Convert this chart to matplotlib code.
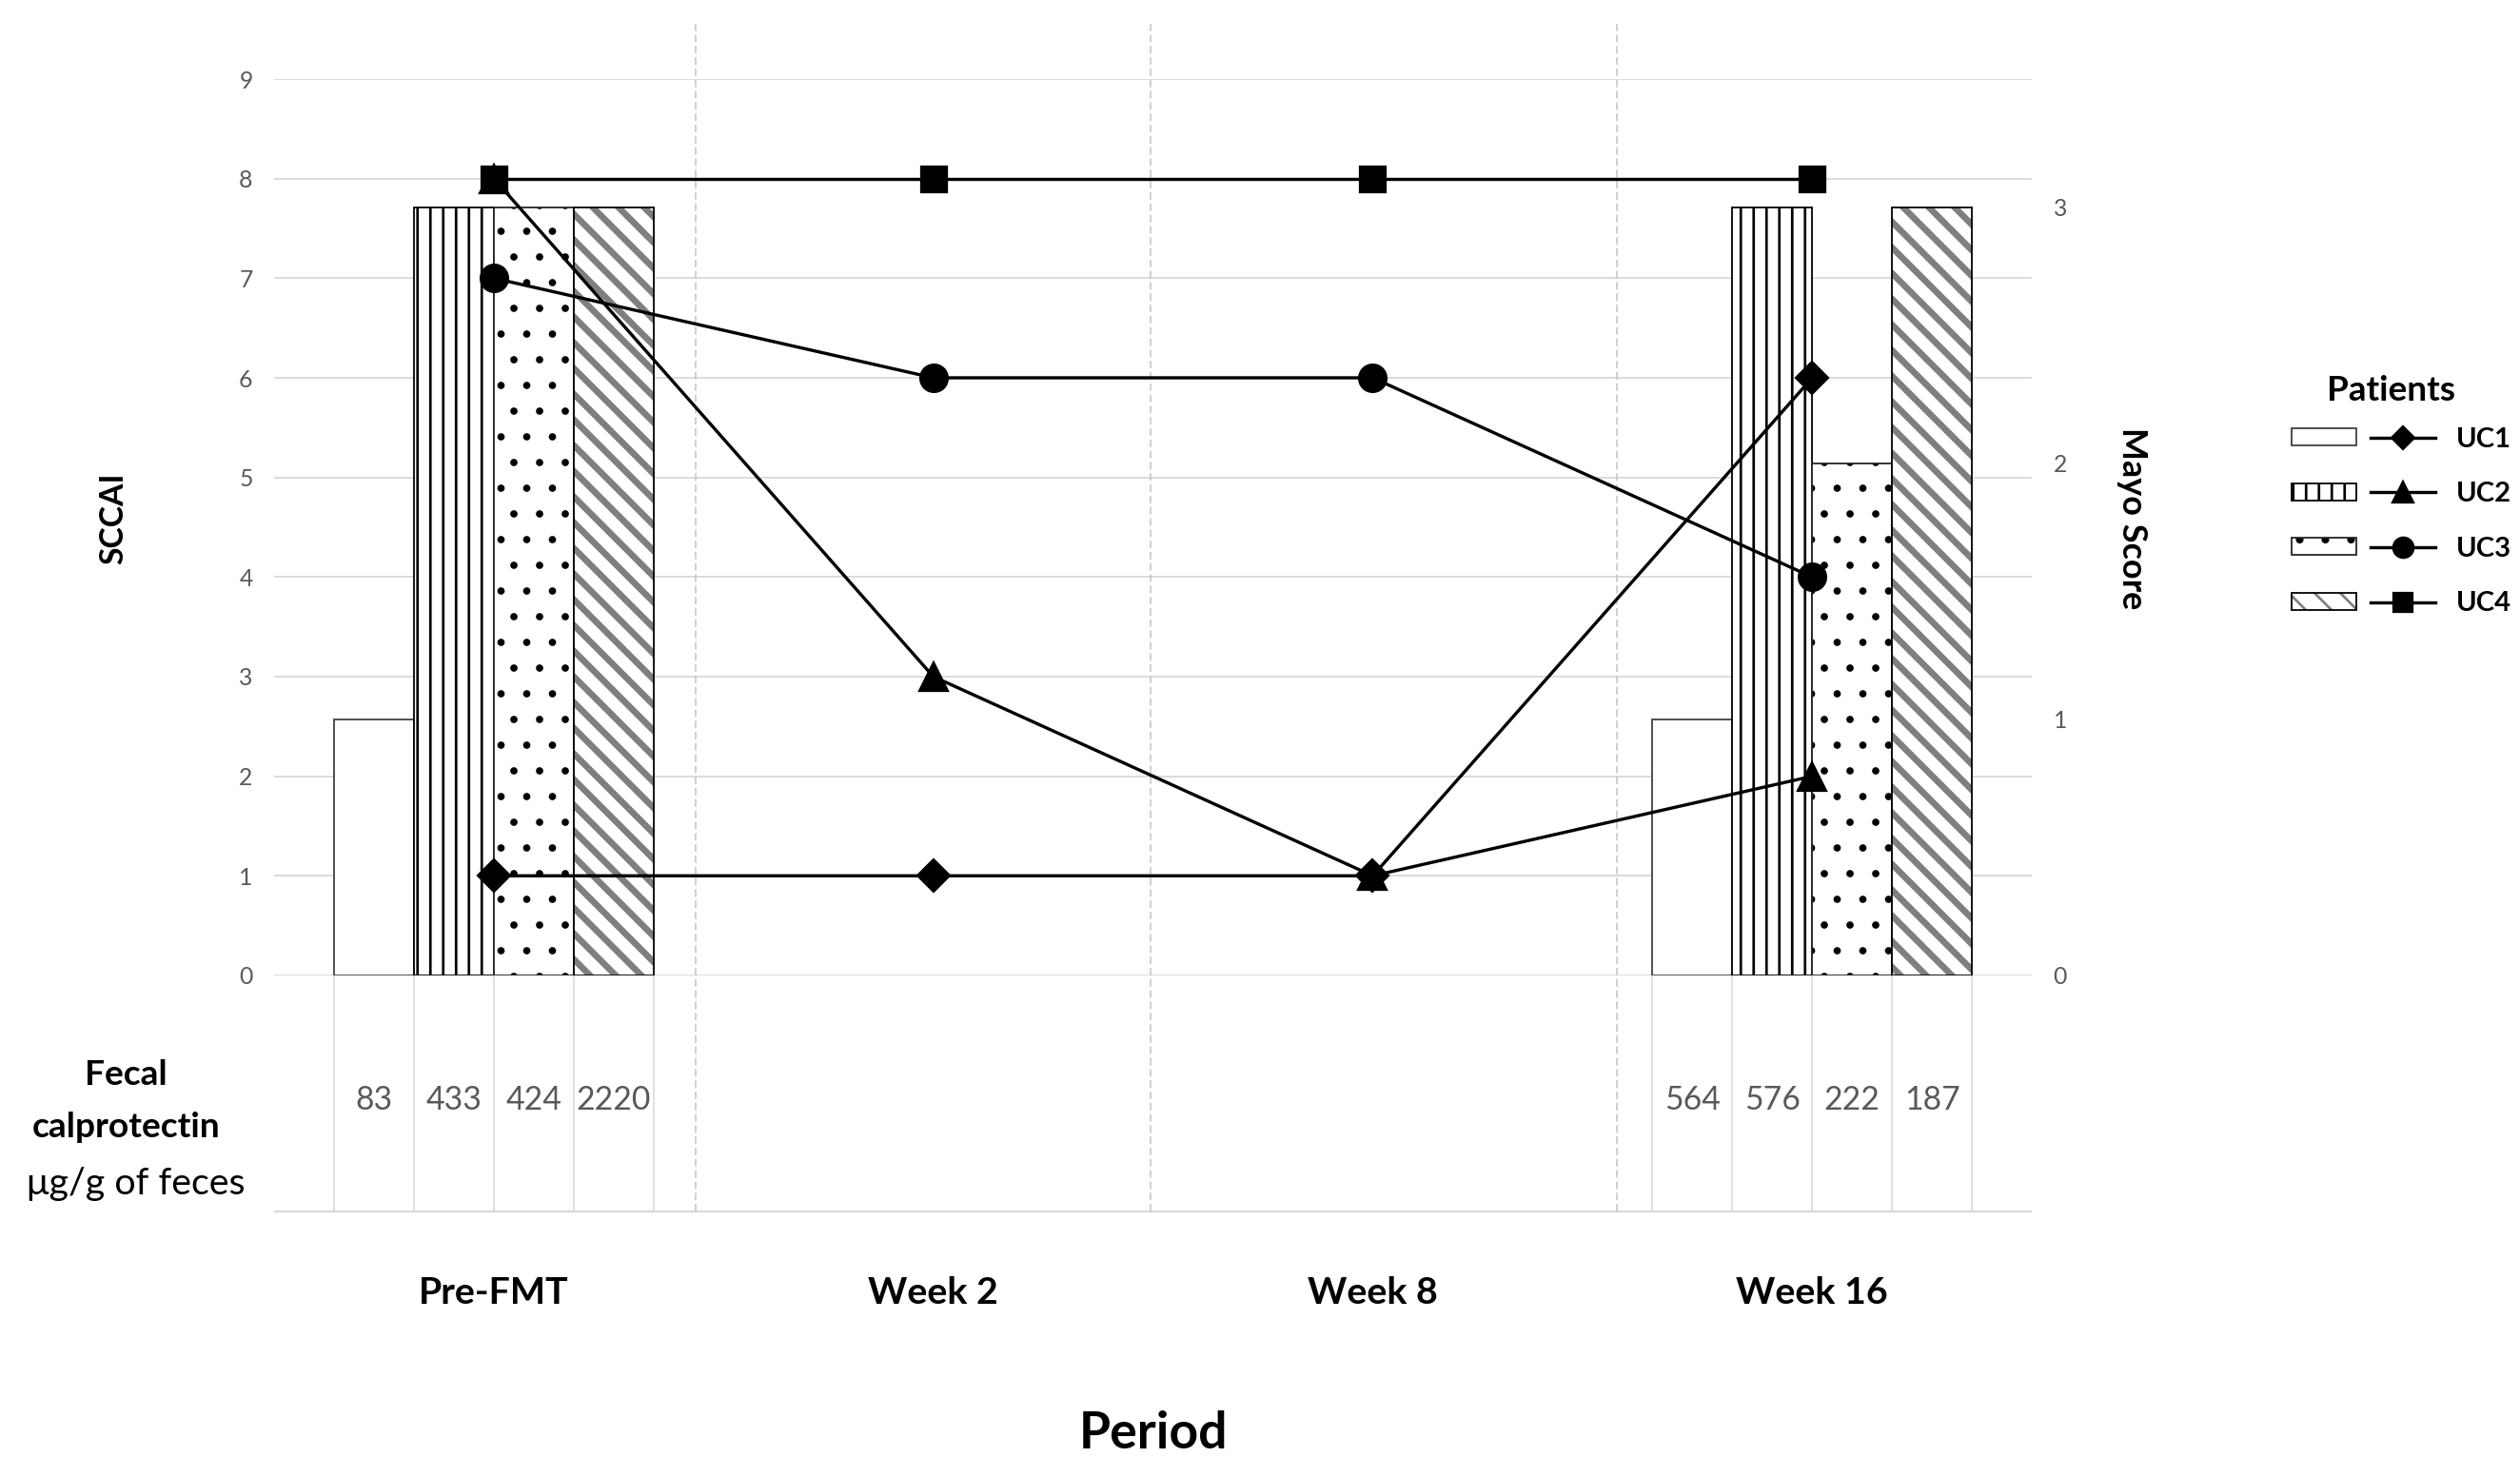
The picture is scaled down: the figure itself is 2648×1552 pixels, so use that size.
import numpy as np
import matplotlib
matplotlib.use("Agg")
import matplotlib.pyplot as plt
from matplotlib.patches import Patch
from matplotlib.lines import Line2D
from matplotlib.legend_handler import HandlerTuple

plt.rcParams['font.family'] = ['Lato', 'DejaVu Sans']
plt.rcParams['hatch.linewidth'] = 1.2

# ---- data ----
periods = ['Pre-FMT', 'Week 2', 'Week 8', 'Week 16']
patients = ['UC1', 'UC2', 'UC3', 'UC4']

# SCCAI, one value per period
sccai_uc1 = [1, 1, 1, 6]
sccai_uc2 = [8, 3, 1, 2]
sccai_uc3 = [7, 6, 6, 4]
sccai_uc4 = [8, 8, 8, 8]

# Mayo score, only measured at Pre-FMT and Week 16
mayo_periods = [0, 3]
mayo_pre = [1, 3, 3, 3]
mayo_w16 = [1, 3, 2, 3]

# fecal calprotectin, ug/g of feces
calpro_pre = [83, 433, 424, 2220]
calpro_w16 = [564, 576, 222, 187]

# ---- styling ----
markers = ['D', '^', 'o', 's']
msizes = [10.7, 13.5, 12.8, 12]
leg_ms = [7.5, 10, 9.5, 9]
hatches = ['', '||', '.', '\\\\']
hatch_colors = ['#404040', 'black', 'black', '#7f7f7f']
hatch_lws = [1.0, 1.2, 1.0, 3.0]
edge_colors = ['#404040', 'black', '#262626', 'black']
grid_c = '#d9d9d9'
tick_c = '#595959'
separators = [0.46, 1.495, 2.555]   # hand-drawn period separators
table_bottom = -2.37
dash_top = 9.55
bw = 0.182


def set_hatch_lw(patch, lw):
    if hasattr(patch, 'set_hatch_linewidth'):
        patch.set_hatch_linewidth(lw)


class Stack(tuple):
    pass


DPI = 162
fig = plt.figure(figsize=(2648 / DPI, 1552 / DPI), dpi=DPI)
ax = fig.add_axes([0.1088, 0.3396, 0.6975, 0.6069])
ax2 = ax.twinx()   # Mayo bars
ax3 = ax.twinx()   # SCCAI lines on top

for a in (ax, ax2, ax3):
    for s in a.spines.values():
        s.set_visible(False)

ax.set_xlim(-0.5, 3.5)
ax.set_ylim(0, 9)
ax.set_yticks(range(10))
ax.set_xticks([])
ax.yaxis.grid(True, color=grid_c, lw=0.8)
ax.set_axisbelow(True)
ax.tick_params(axis='y', length=0, pad=10, labelsize=11, labelcolor=tick_c)

ax2.set_ylim(0, 3.5)
ax2.set_yticks([0, 1, 2, 3])
ax2.tick_params(axis='y', length=0, pad=10, labelsize=11, labelcolor=tick_c)

ax3.set_ylim(0, 9)
ax3.set_axis_off()

# bars + data table below
offsets = (np.arange(len(patients)) - 1.5) * bw
mayo = [mayo_pre, mayo_w16]
calpro = [calpro_pre, calpro_w16]
for k, p in enumerate(mayo_periods):
    xs = p + offsets
    for i in range(len(patients)):
        bars = ax2.bar(xs[i], mayo[k][i], bw, color='white', edgecolor=hatch_colors[i],
                       hatch=hatches[i], lw=0)
        for b in bars:
            set_hatch_lw(b, hatch_lws[i])
        ax2.bar(xs[i], mayo[k][i], bw, fill=False, edgecolor=edge_colors[i], lw=0.8)
        ax.text(xs[i], -1.25, str(calpro[k][i]), ha='center', va='center',
                fontsize=15, color=tick_c, clip_on=False)
    edges = np.r_[xs - bw / 2, xs[-1] + bw / 2]
    ax.vlines(edges, table_bottom, 0, colors=grid_c, lw=0.7, clip_on=False)

ax.hlines(table_bottom, -0.5, 3.5, colors=grid_c, lw=1.0, clip_on=False)
ax.vlines(separators, table_bottom, dash_top, colors='#c4c4c4', lw=0.7,
          linestyles=(0, (5, 2.5)), clip_on=False)

# SCCAI lines
sccai = [sccai_uc1, sccai_uc2, sccai_uc3, sccai_uc4]
for vals, m, ms in zip(sccai, markers, msizes):
    ax3.plot(range(len(periods)), vals, color='black', lw=1.5, marker=m, ms=ms)

# labels
for p, lab in enumerate(periods):
    ax.text(p, -3.19, lab, ha='center', va='center', fontsize=17.5,
            fontweight='bold', clip_on=False)
ax.text(1.5, -4.6, 'Period', ha='center', va='center', fontsize=23.8,
        fontweight='bold', clip_on=False)
ax.text(-0.0915, 0.51, 'SCCAI', transform=ax.transAxes, rotation=90,
        ha='center', va='center', fontsize=15, fontweight='bold')
ax.text(1.057, 0.51, 'Mayo Score', transform=ax.transAxes, rotation=270,
        ha='center', va='center', fontsize=16, fontweight='bold')

fig.text(0.050, 0.272, 'Fecal', ha='center', va='center', fontsize=16.5, fontweight='bold')
fig.text(0.050, 0.2365, 'calprotectin', ha='center', va='center', fontsize=16.5, fontweight='bold')
fig.text(0.054, 0.1985, 'μg/g of feces', ha='center', va='center', fontsize=17.5)

# legend: pattern box + line/marker per patient
handles = []
for i in range(len(patients)):
    ph = Patch(facecolor='white', edgecolor=hatch_colors[i], hatch=hatches[i], lw=0)
    set_hatch_lw(ph, hatch_lws[i])
    pe = Patch(fill=False, edgecolor=edge_colors[i], lw=0.8)
    ln = Line2D([], [], color='black', lw=1.5, marker=markers[i], ms=leg_ms[i])
    handles.append((Stack((ph, pe)), ln))

fig.text(0.9487, 0.7352, 'Patients', ha='center', va='center', fontsize=16.4,
         fontweight='bold')
fig.legend(handles, patients,
           handler_map={Stack: HandlerTuple(ndivide=1, pad=0),
                        tuple: HandlerTuple(ndivide=2, pad=0.51)},
           loc='upper left', bbox_to_anchor=(0.9094, 0.711), frameon=False,
           prop={'weight': 'bold', 'size': 13},
           handlelength=5.16, handleheight=0.58, handletextpad=0.75,
           labelspacing=1.08, borderpad=0, borderaxespad=0)

fig.savefig('out.png', dpi=DPI)
